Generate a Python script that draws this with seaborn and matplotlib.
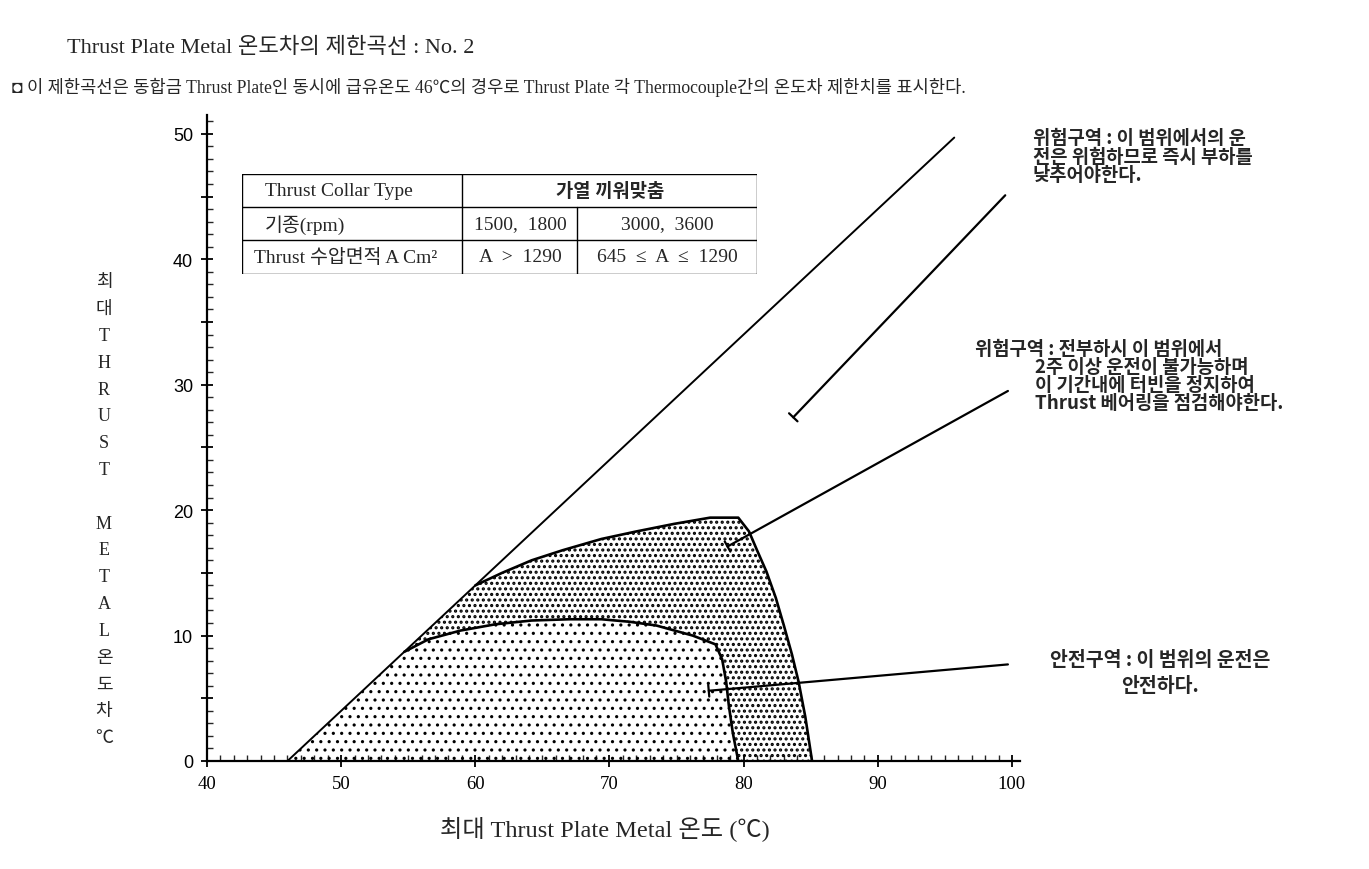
import numpy as np
import seaborn as sns
import matplotlib.pyplot as plt
from matplotlib.ticker import MultipleLocator, FuncFormatter

# 데이터 ---------------------------------------------------------------

diag_x = [46.0, 95.7]
diag_y = [0.0, 49.7]

# 위험구역(전부하) 경계
upper_x = [60.0, 62.0, 64.2, 66.5, 69.4, 72.0, 74.8, 77.5, 79.6, 80.4, 81.0, 81.7, 82.4, 83.0, 83.6, 84.1, 84.6, 85.1]
upper_y = [14.0, 15.0, 16.0, 16.8, 17.7, 18.3, 18.9, 19.4, 19.4, 18.3, 16.8, 15.1, 13.0, 10.8, 8.5, 6.3, 3.5, 0.0]

# 안전구역 경계
inner_x = [54.7, 56.5, 58.9, 61.5, 64.2, 67.0, 69.4, 71.5, 73.5, 76.2, 77.9, 78.4, 78.7, 78.9, 79.2, 79.6]
inner_y = [8.7, 9.7, 10.4, 10.9, 11.2, 11.3, 11.3, 11.1, 10.8, 10.0, 9.3, 8.1, 6.3, 4.4, 2.2, 0.0]

x_ticks = [40, 50, 60, 70, 80, 90, 100]
y_ticks = [0, 10, 20, 30, 40, 50]

# 화살표 (꼬리 -> 머리)
arrow_tail = [(99.5, 45.1), (99.7, 29.5), (99.7, 7.7)]
arrow_head = [(83.7, 27.4), (78.8, 17.1), (77.4, 5.6)]

title = "Thrust Plate Metal 온도차의 제한곡선 : No. 2"
subtitle = ("◘ 이 제한곡선은 동합금 Thrust Plate인 동시에 급유온도 46℃의 경우로 "
            "Thrust Plate 각 Thermocouple간의 온도차 제한치를 표시한다.")
xlabel = "최대 Thrust Plate Metal 온도 (℃)"
ylabel_chars = list("최대THRUST") + [""] + list("METAL온도차℃")

note_danger = "위험구역 : 이 범위에서의 운\n전은 위험하므로 즉시 부하를\n낮추어야한다."
note_warn_head = "위험구역 : 전부하시 이 범위에서"
note_warn_body = "2주 이상 운전이 불가능하며\n이 기간내에 터빈을 정지하여\nThrust 베어링을 점검해야한다."
note_safe = "안전구역 : 이 범위의 운전은\n안전하다."

tbl_head = ["Thrust Collar Type", "가열 끼워맞춤"]
tbl_rpm = ["기종(rpm)", "1500,  1800", "3000,  3600"]
tbl_area = ["Thrust 수압면적 A Cm²", "A  >  1290", "645  ≤  A  ≤  1290"]

# 스타일 ---------------------------------------------------------------

sns.set_theme(style="white")
serif = ["Liberation Serif", "Noto Sans CJK KR", "DejaVu Sans"]
gothic = ["Noto Sans CJK KR", "DejaVu Sans"]
plt.rcParams["font.family"] = serif
plt.rcParams["hatch.color"] = "black"

W, H = 1369, 870
fig = plt.figure(figsize=(W / 100, H / 100), dpi=100)
ax = fig.add_axes([207 / W, 108 / H, 813 / W, 646 / H])

def fx(px):
    return px / W

def fy(py):
    return 1 - py / H

# 영역 채우기 (점 무늬)
plt.rcParams["hatch.linewidth"] = 1.1
sparse_x = np.concatenate([[diag_x[0]], inner_x])
sparse_y = np.concatenate([[diag_y[0]], inner_y])
ax.fill(sparse_x, sparse_y, facecolor="none", edgecolor="black", hatch="..", linewidth=0)

plt.rcParams["hatch.linewidth"] = 1.5
dense_x = np.concatenate([upper_x, inner_x[::-1]])
dense_y = np.concatenate([upper_y, inner_y[::-1]])
ax.fill(dense_x, dense_y, facecolor="none", edgecolor="black", hatch="...", linewidth=0)

# 곡선
sns.lineplot(x=diag_x, y=diag_y, color="black", linewidth=1.4, ax=ax, sort=False, estimator=None)
sns.lineplot(x=upper_x, y=upper_y, color="black", linewidth=1.9, ax=ax, sort=False, estimator=None)
sns.lineplot(x=inner_x, y=inner_y, color="black", linewidth=1.9, ax=ax, sort=False, estimator=None)

for (tx, ty), (hx, hy) in zip(arrow_tail, arrow_head):
    ax.annotate("", xy=(hx, hy), xytext=(tx, ty),
                arrowprops=dict(arrowstyle="-[, widthB=0.35, lengthB=0", color="black", lw=1.6,
                                shrinkA=0, shrinkB=0))

# 축
ax.set_xlim(40, 100.6)
ax.set_ylim(0, 51.5)
ax.set_xticks(x_ticks)
ax.xaxis.set_minor_locator(MultipleLocator(1))
ax.yaxis.set_major_locator(MultipleLocator(5))
ax.yaxis.set_major_formatter(FuncFormatter(lambda v, p: f"{v:.0f}" if v in y_ticks else ""))
ax.yaxis.set_minor_locator(MultipleLocator(1))
sns.despine(ax=ax)
for s in ["left", "bottom"]:
    ax.spines[s].set_linewidth(1.6)
    ax.spines[s].set_color("black")
ax.tick_params(axis="x", which="major", direction="inout", length=8, width=1.3, pad=6,
               labelsize=13.5, colors="black", bottom=True)
ax.tick_params(axis="x", which="minor", direction="in", length=4, width=1.0, bottom=True)
ax.tick_params(axis="y", which="major", direction="inout", length=8, width=1.3, pad=6,
               labelsize=13, colors="black", left=True)
ax.tick_params(axis="y", which="minor", direction="in", length=4, width=1.0, left=True)
for lab in ax.get_yticklabels():
    lab.set_family(["Liberation Sans"])

fig.text(fx(605), fy(830), xlabel, ha="center", va="center", fontsize=17.5)
for i, ch in enumerate(ylabel_chars):
    fig.text(fx(104), fy(283 + i * 26.8), ch, ha="center", va="center", fontsize=13)

# 제목
fig.text(fx(67), fy(48), title, ha="left", va="center", fontsize=16)
fig.text(fx(12), fy(87), subtitle, ha="left", va="center", fontsize=12.7)

# 주석
fig.text(fx(1033), fy(129), note_danger, ha="left", va="top", fontsize=13.5,
         family=gothic, fontweight="bold", linespacing=0.97)
fig.text(fx(975), fy(340), note_warn_head, ha="left", va="top", fontsize=13.5,
         family=gothic, fontweight="bold")
fig.text(fx(1035), fy(358), note_warn_body, ha="left", va="top", fontsize=13.5,
         family=gothic, fontweight="bold", linespacing=0.93)
fig.text(fx(1160), fy(651), note_safe, ha="center", va="top", fontsize=14,
         family=gothic, fontweight="bold", linespacing=1.45)

# 표
tax = fig.add_axes([242 / W, 1 - 275 / H, 515 / W, 100 / H])
tax.set_xlim(0, 515)
tax.set_ylim(100, 0)
tax.axis("off")
tax.plot([0, 515, 515, 0, 0], [0, 0, 100, 100, 0], color="black", lw=1.0)
tax.plot([0, 515], [33, 33], color="black", lw=1.0)
tax.plot([0, 515], [66, 66], color="black", lw=1.0)
tax.plot([220, 220], [0, 100], color="black", lw=1.0)
tax.plot([335, 335], [33, 100], color="black", lw=1.0)
tax.text(23, 17, tbl_head[0], ha="left", va="center", fontsize=14)
tax.text(368, 17, tbl_head[1], ha="center", va="center", fontsize=13.5, fontweight="bold")
tax.text(23, 50, tbl_rpm[0], ha="left", va="center", fontsize=14)
tax.text(278, 50, tbl_rpm[1], ha="center", va="center", fontsize=14)
tax.text(425, 50, tbl_rpm[2], ha="center", va="center", fontsize=14)
tax.text(12, 83, tbl_area[0], ha="left", va="center", fontsize=14)
tax.text(278, 83, tbl_area[1], ha="center", va="center", fontsize=14)
tax.text(425, 83, tbl_area[2], ha="center", va="center", fontsize=14)

fig.savefig("out.png", dpi=100, facecolor="white")
